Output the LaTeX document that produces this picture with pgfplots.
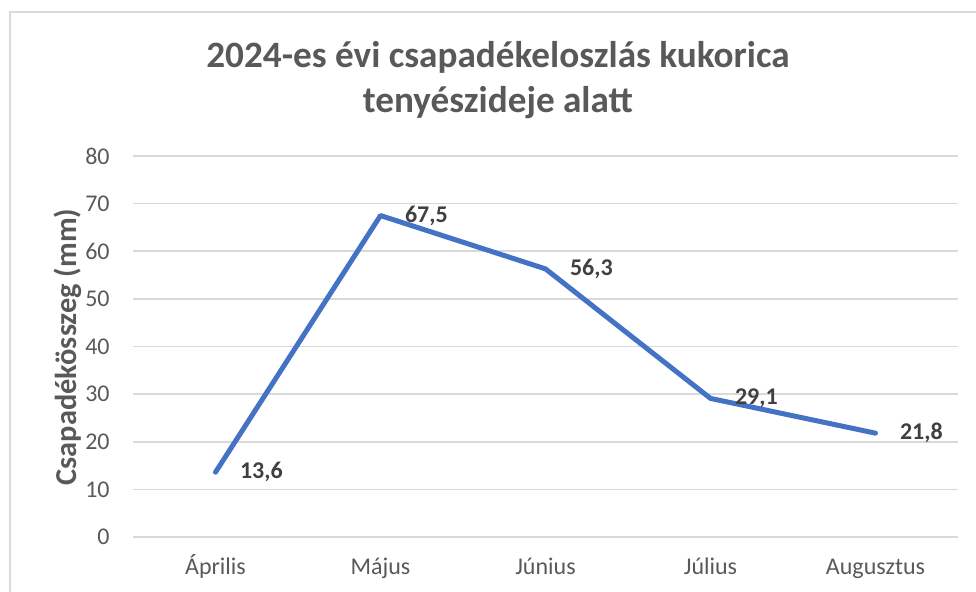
\documentclass[border=0pt]{standalone}
\usepackage{fontspec}
\setmainfont{Carlito}
\usepackage{pgfplots}
\pgfplotsset{compat=1.18}
\definecolor{txtgray}{HTML}{595959}
\definecolor{gridgray}{HTML}{D9D9D9}
\definecolor{lineblue}{HTML}{4472C4}
\definecolor{lblgray}{HTML}{404040}

\begin{document}
\begin{tikzpicture}[x=0.5pt,y=-0.5pt]
\useasboundingbox (0,0) rectangle (976,592);
% chart area border (left and top visible)
\draw[gridgray, line width=0.6pt] (10,592) -- (10,12) -- (976,12);
\node[align=center, text=txtgray, font=\fontsize{18.6}{22.5}\selectfont\bfseries]
  at (498,80) {2024-es évi csapadékeloszlás kukorica\\tenyészideje alatt};
\node[rotate=90, text=txtgray, font=\fontsize{15.2}{18}\selectfont\bfseries]
  at (68,347) {Csapadékösszeg (mm)};

\begin{axis}[
    at={(66.5pt,-268.5pt)}, anchor=south west,
    scale only axis, width=412.5pt, height=190.5pt,
    xmin=-0.5, xmax=4.5, ymin=0, ymax=80,
    xtick={0,...,4},
    xticklabels={Április,Május,Június,Július,Augusztus},
    ytick={0,10,...,80},
    /pgf/number format/assume math mode=true,
    ymajorgrids,
    major grid style={gridgray, line width=0.8pt},
    axis line style={draw=none},
    major tick length=0pt,
    tick style={draw=none},
    tick label style={font=\fontsize{12}{14}\selectfont, text=txtgray},
    yticklabel style={anchor=east, inner sep=0pt, xshift=-11.5pt},
    xticklabel style={anchor=base, inner sep=0pt, yshift=-19pt},
    clip=false,
    point meta=explicit symbolic,
    nodes near coords,
    nodes near coords style={anchor=west, xshift=11pt, inner sep=0pt,
        text=lblgray, font=\fontsize{12}{14}\selectfont\bfseries},
]
\addplot[lineblue, line width=2.5pt, line join=round, line cap=round] coordinates {
    (0,13.6) [13,6]
    (1,67.5) [67,5]
    (2,56.3) [56,3]
    (3,29.1) [29,1]
    (4,21.8) [21,8]
};
\end{axis}
\end{tikzpicture}
\end{document}
